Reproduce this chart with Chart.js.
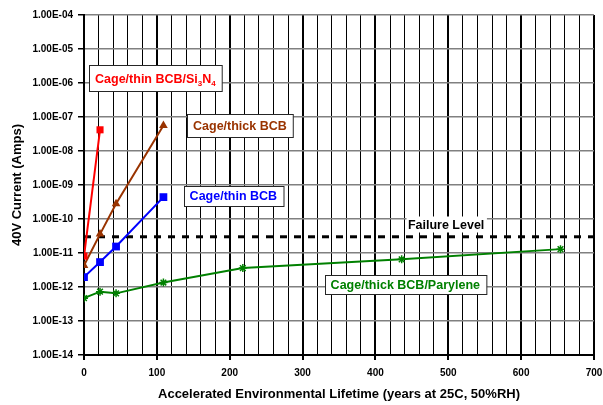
<!DOCTYPE html>
<html>
<head>
<meta charset="utf-8">
<style>
  html, body { margin: 0; padding: 0; background: #ffffff; }
  canvas { display: block; }
</style>
<script src="https://cdn.jsdelivr.net/npm/chart.js@4.4.1/dist/chart.umd.min.js"></script>
</head>
<body>
<canvas id="chart" width="603" height="405"></canvas>
<script>
// Lifetime (years at 25C, 50%RH) for each test stage
const lifetimeShort = [0, 22];
const lifetimeMid = [0, 22, 44, 109];
const lifetimeLong = [0, 22, 44, 109, 218, 436, 654];

// 40V leakage current (A)
const currentThinBcbSiN = [8.1e-12, 4.2e-8];
const currentThickBcb = [4.3e-12, 3.6e-11, 2.8e-10, 5.6e-8];
const currentThinBcb = [1.95e-12, 5.4e-12, 1.55e-11, 4.4e-10];
const currentParylene = [4.7e-13, 7.3e-13, 6.5e-13, 1.35e-12, 3.6e-12, 6.5e-12, 1.3e-11];

// Failure threshold
const failureRange = [0, 700];
const failureCurrent = 3e-11;

// Axis ticks
const yTickValues = [1e-4, 1e-5, 1e-6, 1e-7, 1e-8, 1e-9, 1e-10, 1e-11, 1e-12, 1e-13, 1e-14];
const yTickLabels = ['1.00E-04', '1.00E-05', '1.00E-06', '1.00E-07', '1.00E-08', '1.00E-09',
                     '1.00E-10', '1.00E-11', '1.00E-12', '1.00E-13', '1.00E-14'];
const xTickLabels = ['0', '100', '200', '300', '400', '500', '600', '700'];

const pts = (xs, ys) => xs.map((x, i) => ({ x: x, y: ys[i] }));

// Callout text boxes, anchored in data coordinates
const callouts = [
  { parts: [['Cage/thin BCB/Si', 0], ['3', 1], ['N', 0], ['4', 1]], color: '#FF0000', x: 98, y: 1.4e-6, box: true, h: 26 },
  { parts: [['Cage/thick BCB', 0]], color: '#993300', x: 214, y: 5.6e-8, box: true, h: 23 },
  { parts: [['Cage/thin BCB', 0]], color: '#0000FF', x: 205, y: 4.8e-10, box: true, h: 20 },
  { parts: [['Cage/thick BCB/Parylene', 0]], color: '#008000', x: 441, y: 1.18e-12, box: true, h: 19 },
  { parts: [['Failure Level', 0]], color: '#000000', x: 497, y: 7.1e-11, box: false, h: 16 }
];

const FONT = 'Liberation Sans, Arial, sans-serif';

const calloutPlugin = {
  id: 'callouts',
  afterDatasetsDraw(chart) {
    const ctx = chart.ctx;
    const xs = chart.scales.x, ys = chart.scales.y;
    ctx.save();
    ctx.textBaseline = 'alphabetic';
    callouts.forEach(c => {
      const cx = xs.getPixelForValue(c.x);
      const cy = ys.getPixelForValue(c.y);
      let w = 0;
      c.parts.forEach(([t, sub]) => {
        ctx.font = 'bold ' + (sub ? 8 : 12.5) + 'px ' + FONT;
        w += ctx.measureText(t).width;
      });
      const padX = c.box ? 6 : 2;
      const bw = w + padX * 2;
      const bh = c.h;
      const bx = Math.round(cx - bw / 2) + 0.5;
      const by = Math.round(cy - bh / 2) + 0.5;
      ctx.fillStyle = '#ffffff';
      ctx.fillRect(bx, by, bw, bh);
      if (c.box) {
        ctx.strokeStyle = '#262626';
        ctx.lineWidth = 1;
        ctx.strokeRect(bx, by, bw, bh);
      }
      let tx = cx - w / 2;
      const base = cy + 4.5;
      ctx.fillStyle = c.color;
      c.parts.forEach(([t, sub]) => {
        ctx.font = 'bold ' + (sub ? 8 : 12.5) + 'px ' + FONT;
        ctx.fillText(t, tx, sub ? base + 3 : base);
        tx += ctx.measureText(t).width;
      });
    });
    ctx.restore();
  }
};

Chart.defaults.font.family = FONT;
Chart.defaults.font.weight = 'bold';
Chart.defaults.color = '#000000';

new Chart(document.getElementById('chart'), {
  type: 'line',
  data: {
    datasets: [
      {
        label: 'Cage/thin BCB/Si3N4',
        data: pts(lifetimeShort, currentThinBcbSiN),
        borderColor: '#FF0000', backgroundColor: '#FF0000',
        borderWidth: 2, pointStyle: 'rect', pointRadius: 5, pointBorderWidth: 0
      },
      {
        label: 'Cage/thick BCB',
        data: pts(lifetimeMid, currentThickBcb),
        borderColor: '#993300', backgroundColor: '#993300',
        borderWidth: 2, pointStyle: 'triangle', pointRadius: 5, pointBorderWidth: 0
      },
      {
        label: 'Cage/thin BCB',
        data: pts(lifetimeMid, currentThinBcb),
        borderColor: '#0000FF', backgroundColor: '#0000FF',
        borderWidth: 2, pointStyle: 'rect', pointRadius: 5.5, pointBorderWidth: 0
      },
      {
        label: 'Cage/thick BCB/Parylene',
        data: pts(lifetimeLong, currentParylene),
        borderColor: '#008000', backgroundColor: '#008000',
        borderWidth: 2, pointStyle: 'star', pointRadius: 4, pointBorderWidth: 1.5
      },
      {
        label: 'Failure Level',
        data: pts(failureRange, [failureCurrent, failureCurrent]),
        borderColor: '#000000', borderWidth: 3, borderDash: [7, 7],
        pointRadius: 0
      }
    ]
  },
  options: {
    responsive: false,
    animation: false,
    layout: { padding: { top: 15, right: 9, left: 0, bottom: 0 } },
    plugins: { legend: { display: false }, tooltip: { enabled: false } },
    scales: {
      x: {
        type: 'linear', min: 0, max: 700,
        ticks: {
          stepSize: 20, autoSkip: false, maxRotation: 0, padding: 7,
          font: { size: 10, weight: 'bold' }, color: '#000',
          callback: v => (v % 100 === 0 ? xTickLabels[v / 100] : '')
        },
        grid: {
          color: '#000000',
          lineWidth: c => (c.tick && c.tick.value % 100 === 0 ? 2 : 1),
          tickLength: 5,
          tickColor: c => (c.tick && c.tick.value % 100 === 0 ? '#000000' : 'rgba(0,0,0,0)')
        },
        border: { color: '#000000', width: 2 },
        title: {
          display: true,
          text: 'Accelerated Environmental Lifetime (years at 25C, 50%RH)',
          font: { size: 13, weight: 'bold' }, color: '#000',
          padding: { top: 0, bottom: 3 }
        },
        afterFit: s => { s.height = 50; s.paddingLeft = 0; s.paddingRight = 0; }
      },
      y: {
        type: 'logarithmic', min: 1e-14, max: 1e-4,
        afterBuildTicks: s => { s.ticks = yTickValues.map(v => ({ value: v })); },
        ticks: {
          autoSkip: false, padding: 5,
          font: { size: 10, weight: 'bold' }, color: '#000',
          callback: v => yTickLabels[yTickValues.findIndex(t => Math.abs(Math.log10(t) - Math.log10(v)) < 1e-6)]
        },
        grid: { color: '#808080', lineWidth: 1.5, tickLength: 6, tickColor: '#000000' },
        border: { color: '#000000', width: 2 },
        title: {
          display: true, text: '40V Current (Amps)',
          font: { size: 13, weight: 'bold' }, color: '#000',
          padding: { top: 10, bottom: 0 }
        },
        afterFit: s => { s.width = 84; }
      }
    }
  },
  plugins: [calloutPlugin]
});
</script>
</body>
</html>
